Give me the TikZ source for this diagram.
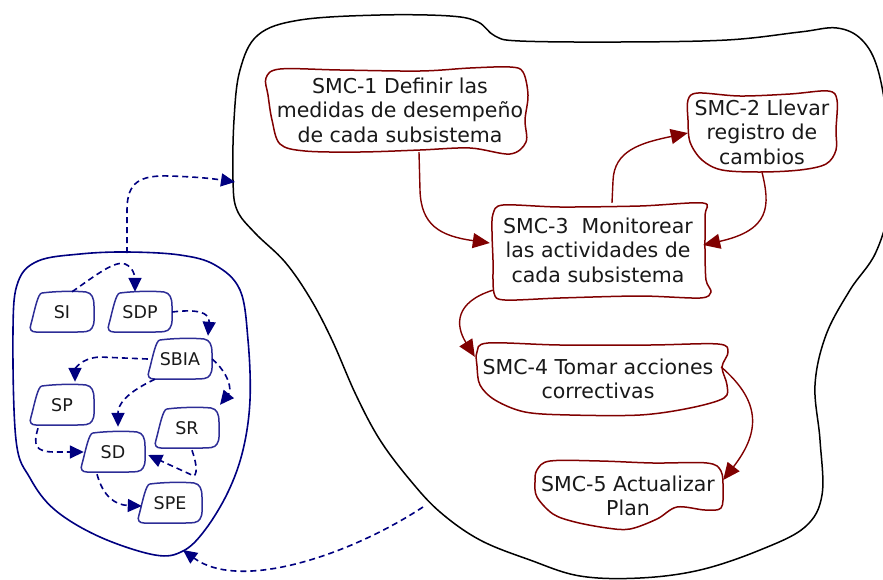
\documentclass[tikz,border=0pt]{standalone}
\usepackage{fontspec}
\setmainfont{DejaVu Sans}
\usetikzlibrary{arrows.meta}
\definecolor{navyline}{RGB}{0,0,128}
\definecolor{subline}{RGB}{45,45,150}
\definecolor{maroonline}{RGB}{128,0,0}
\definecolor{inktext}{RGB}{25,25,25}

\begin{document}
\begin{tikzpicture}[x=1pt,y=-1pt,
  subbox/.style={minimum width=64pt,minimum height=40pt,inner sep=0pt,text=inktext,
    font=\fontsize{17.5}{20}\selectfont},
  smcbox/.style={inner sep=0pt,align=center,text=inktext,
    font=\fontsize{20.5}{24.5}\selectfont},
  flowdash/.style={navyline,line width=1.6pt,dash pattern=on 6pt off 4pt,
    -{Triangle[length=14pt,width=13pt]}},
  flowsolid/.style={maroonline,line width=1.4pt,-{Triangle[length=17pt,width=15pt]}},
  smcline/.style={maroonline,line width=1.5pt},
  subshape/.style={subline,line width=1.5pt},
]
\useasboundingbox (0,0) rectangle (883,579);
\clip (0,0) rectangle (883,579);

% large region holding the SMC activities
\draw[black,line width=1.5pt] plot[smooth cycle,tension=0.6] coordinates {
  (233,180) (234,120) (240,70) (258,35) (300,20) (380,15) (450,16) (478,22)
  (495,36) (520,41) (620,42) (727,40) (800,32) (837,28) (862,40) (878,70)
  (888,130) (890,200) (876,252) (850,290) (826,335) (815,385) (820,440)
  (822,495) (805,527) (760,550) (700,570) (640,578) (580,576) (530,560)
  (480,540) (440,512) (410,480) (380,440) (356,395) (332,340) (310,298)
  (285,262) (255,233) (237,210)};

% region holding the subsystems
\draw[navyline,line width=1.6pt] plot[smooth cycle,tension=0.6] coordinates {
  (13,330) (18,282) (38,261) (80,254) (127,252) (180,255) (215,265) (240,290)
  (248,340) (250,400) (243,450) (228,492) (205,530) (183,551) (155,555)
  (100,537) (55,510) (30,478) (16,440)};

\coordinate (blobtop) at (127,253);
\coordinate (blobbottom) at (183,550);
\coordinate (bigleft) at (235,182);
\coordinate (bigbottom) at (423,507);

% subsystems
\node[subbox] (SI)   at (62,312)  {SI};
\node[subbox] (SDP)  at (140,312) {SDP};
\node[subbox] (SBIA) at (180,359) {SBIA};
\node[subbox] (SP)   at (62,405)  {SP};
\node[subbox] (SR)   at (187,428) {SR};
\node[subbox] (SD)   at (113,452) {SD};
\node[subbox] (SPE)  at (170,503) {SPE};

\foreach \n in {SI,SDP,SBIA,SP,SR,SD,SPE}{
  \draw[subshape,shift={(\n.center)}]
    (-20,-19) .. controls (-5,-21) and (15,-21) .. (24,-20)
    .. controls (30,-19) and (32,-14) .. (32,-6)
    .. controls (32,4) and (33,12) .. (30,16)
    .. controls (28,20) and (22,20) .. (15,20) -- (-26,20)
    .. controls (-31,20) and (-33,17) .. (-31,12)
    .. controls (-29,5) and (-26,-10) .. (-23,-16)
    .. controls (-22,-18) and (-21,-19) .. (-20,-19) -- cycle;
}

% SMC activities
\node[smcbox,minimum width=250pt,minimum height=84pt] (s1) at (400,110)
  {SMC-1 Definir las\\medidas de desempeño\\de cada subsistema};
\node[smcbox,minimum width=152pt,minimum height=80pt] (s2) at (762,132)
  {SMC-2 Llevar\\registro de\\cambios};
\node[smcbox,minimum width=216pt,minimum height=94pt] (s3) at (598,250)
  {SMC-3\ \ Monitorear\\las actividades de\\cada subsistema};
\node[smcbox,minimum width=250pt,minimum height=72pt] (s4) at (598,379)
  {SMC-4 Tomar acciones\\correctivas};
\node[smcbox,minimum width=190pt,minimum height=72pt] (s5) at (628,496)
  {SMC-5 Actualizar\\Plan};

\draw[smcline] plot[smooth cycle,tension=0.55] coordinates {
  (266,78) (280,69) (340,70) (420,71) (470,68) (510,67) (523,72) (528,95)
  (525,120) (526,142) (510,154) (470,148) (420,150) (360,152) (305,151)
  (280,144) (272,120) (268,95)};
\draw[smcline] plot[smooth cycle,tension=0.55] coordinates {
  (688,100) (698,93) (740,96) (790,94) (828,91) (837,100) (836,130)
  (836,150) (826,164) (800,170) (760,172) (722,170) (702,160) (690,142)
  (688,120)};
\draw[smcline] plot[smooth cycle,tension=0.5] coordinates {
  (493,214) (503,205) (560,207) (640,206) (703,203) (705,215) (705,250)
  (706,280) (711,292) (700,298) (640,296) (560,298) (505,300) (494,293)
  (493,260) (492,232)};
\draw[smcline] plot[smooth cycle,tension=0.55] coordinates {
  (477,352) (488,343) (560,345) (650,345) (718,344) (728,352) (722,367)
  (727,385) (724,398) (690,408) (640,415) (570,415) (525,412) (495,400)
  (480,385) (477,366)};
\draw[smcline] plot[smooth cycle,tension=0.55] coordinates {
  (537,470) (550,461) (600,461) (653,463) (707,463) (721,471) (723,490)
  (721,508) (705,510) (677,507) (657,519) (630,529) (607,528) (575,522)
  (553,514) (537,497) (535,482)};

% flows between SMC activities
\draw[flowsolid] ([xshift=19pt]s1.south) -- ++(1,38)
  .. controls +(1,35) and (440,236) .. ([yshift=7pt]s3.west);
\draw[flowsolid] ([xshift=14pt]s3.north) -- ++(1,-22)
  .. controls +(1,-30) and (640,143) .. ([xshift=2pt,yshift=-1pt]s2.west);
\draw[flowsolid] (s2.south)
  .. controls +(8,33) and (771,230) .. ([xshift=-3pt,yshift=5pt]s3.east);
\draw[flowsolid] ([xshift=3pt,yshift=7pt]s3.south west)
  .. controls +(-38,12) and (455,325) .. ([xshift=2pt,yshift=-14pt]s4.north west);
\draw[flowsolid] ([xshift=-2pt,yshift=12pt]s4.east)
  .. controls +(38,33) and (762,430) .. ([yshift=16pt]s5.east);

% flows between subsystems
\draw[flowdash] ([xshift=10pt]SI.north)
  .. controls +(23,-16) and (115,260) .. (125,264)
  .. controls (133,267) and (135,276) .. ([xshift=-5pt]SDP.north);
\draw[flowdash] (SDP.east)
  .. controls +(24,-3) and (210,312) .. ([xshift=28pt,yshift=3pt]SBIA.north);
\draw[flowdash] (SBIA.west) -- (100,357)
  .. controls (80,358) and (75,370) .. ([xshift=13pt,yshift=3pt]SP.north);
\draw[flowdash] (SBIA.east)
  .. controls +(17,15) and (232,390) .. ([xshift=33pt,yshift=3pt]SR.north);
\draw[flowdash] ([xshift=-25pt]SBIA.south)
  .. controls +(-30,14) and (118,405) .. ([xshift=5pt,yshift=5pt]SD.north);
\draw[flowdash] ([xshift=-24pt,yshift=-3pt]SP.south)
  .. controls +(-5,17) and (35,452) .. (55,452) -- ([xshift=3pt]SD.west);
\draw[flowdash] ([xshift=5pt,yshift=-2pt]SR.south)
  .. controls +(4,12) and (198,472) .. (194,476) -- ([xshift=3pt,yshift=-3pt]SD.east);
\draw[flowdash] ([xshift=-16pt,yshift=-2pt]SD.south)
  .. controls +(6,22) and (115,505) .. ([xshift=4pt,yshift=-3pt]SPE.west);

% flows between the two regions
\draw[flowdash] (blobtop) -- ++(0,-43)
  .. controls +(0,-28) and (140,175) .. (170,176)
  .. controls (200,177) and (215,179) .. (bigleft);
\draw[flowdash] (bigbottom)
  .. controls (350,555) and (240,592) .. (blobbottom);

\end{tikzpicture}
\end{document}
